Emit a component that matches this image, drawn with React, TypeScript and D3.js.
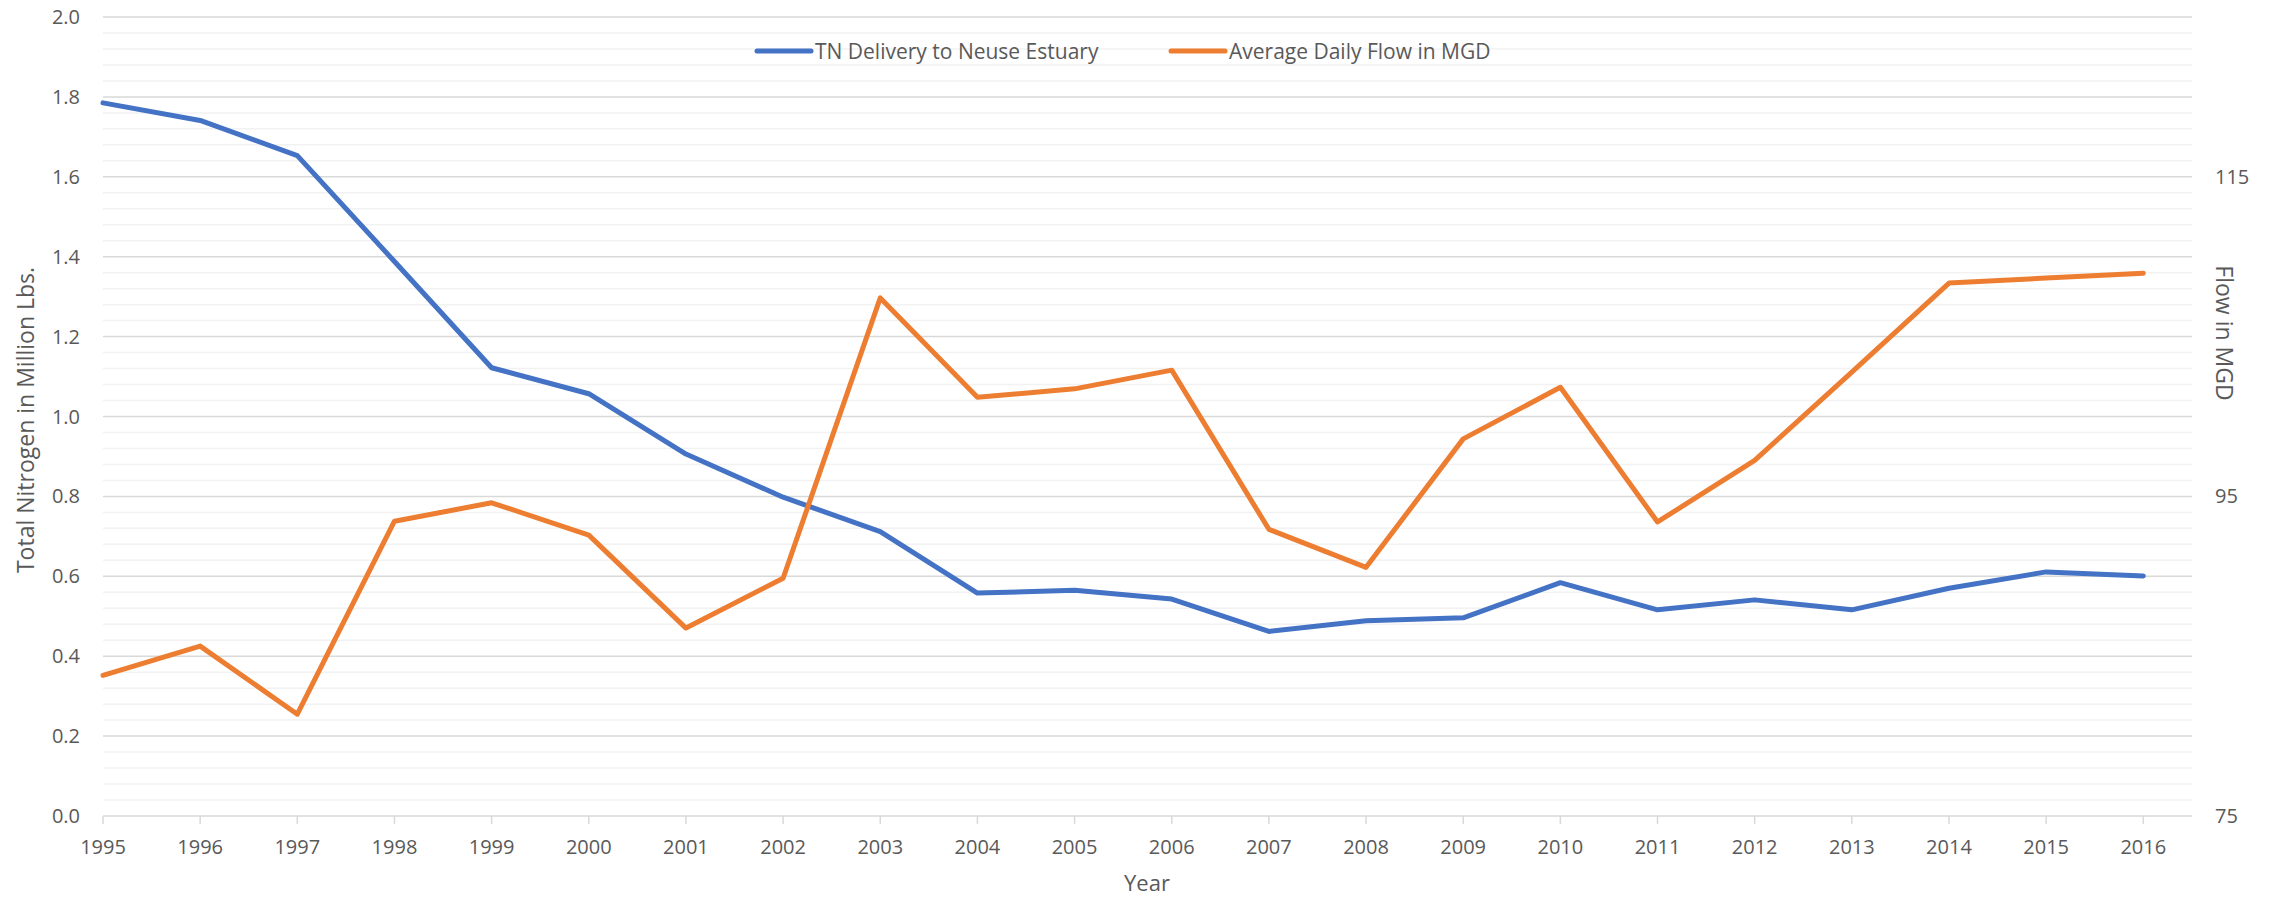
import React, { useRef, useEffect } from 'react';
import * as d3 from 'd3';

const years = [
  1995, 1996, 1997, 1998, 1999, 2000, 2001, 2002, 2003, 2004, 2005,
  2006, 2007, 2008, 2009, 2010, 2011, 2012, 2013, 2014, 2015, 2016,
];

// TN delivery, million lbs (left axis)
const tnDelivery = [
  1.785, 1.741, 1.653, 1.388, 1.122, 1.057, 0.906, 0.798, 0.712, 0.558, 0.565,
  0.543, 0.462, 0.489, 0.496, 0.584, 0.516, 0.541, 0.516, 0.570, 0.611, 0.601,
];

// average daily flow, MGD (right axis)
const dailyFlow = [
  83.8, 85.63, 81.37, 93.45, 94.6, 92.58, 86.76, 89.88, 107.42, 101.2, 101.73,
  102.9, 92.94, 90.56, 98.6, 101.83, 93.4, 97.25, 102.78, 108.35, 108.66, 108.97,
];

const leftTicks = [0, 0.2, 0.4, 0.6, 0.8, 1.0, 1.2, 1.4, 1.6, 1.8, 2.0];
const rightTicks = [75, 95, 115];
const seriesNames = ['TN Delivery to Neuse Estuary', 'Average Daily Flow in MGD'];
const seriesColors = ['#4472C4', '#ED7D31'];

const FONT = '"Open Sans", sans-serif';
const TEXT = '#595959';

const App: React.FC = () => {
  const svgRef = useRef<SVGSVGElement | null>(null);

  useEffect(() => {
    if (!svgRef.current) return;
    document.body.style.margin = '0';

    d3.select(svgRef.current).selectAll('*').remove();

    const width = 2279;
    const height = 897;
    const plotLeft = 103;
    const plotRight = 2192;
    const plotTop = 17;
    const plotBottom = 816;

    const svg = d3
      .select(svgRef.current)
      .attr('width', width)
      .attr('height', height)
      .style('display', 'block')
      .style('background', '#fff');

    const x = d3.scaleLinear().domain([1995, 2016]).range([plotLeft, 2143.3]);
    const yLeft = d3.scaleLinear().domain([0, 2]).range([plotBottom, plotTop]);
    const yRight = d3.scaleLinear().domain([75, 125]).range([plotBottom, plotTop]);

    // minor gridlines every 0.04, major every 0.2
    const minor = d3.range(0, 51).map((i) => i * 0.04);
    svg
      .append('g')
      .selectAll('line')
      .data(minor.filter((_, i) => i % 5 !== 0))
      .join('line')
      .attr('x1', plotLeft)
      .attr('x2', plotRight)
      .attr('y1', (d) => yLeft(d))
      .attr('y2', (d) => yLeft(d))
      .attr('stroke', '#f2f2f2')
      .attr('stroke-width', 1.5);

    svg
      .append('g')
      .selectAll('line')
      .data(leftTicks)
      .join('line')
      .attr('x1', plotLeft)
      .attr('x2', plotRight)
      .attr('y1', (d) => yLeft(d))
      .attr('y2', (d) => yLeft(d))
      .attr('stroke', '#d9d9d9')
      .attr('stroke-width', 1.5);

    // x tick marks
    svg
      .append('g')
      .selectAll('line')
      .data(years)
      .join('line')
      .attr('x1', (d) => x(d))
      .attr('x2', (d) => x(d))
      .attr('y1', plotBottom)
      .attr('y2', plotBottom + 8)
      .attr('stroke', '#d9d9d9')
      .attr('stroke-width', 1.5);

    // left tick labels
    svg
      .append('g')
      .selectAll('text')
      .data(leftTicks)
      .join('text')
      .attr('x', 80)
      .attr('y', (d) => yLeft(d) + 7)
      .attr('text-anchor', 'end')
      .attr('font-family', FONT)
      .attr('font-size', 20)
      .attr('fill', TEXT)
      .text((d) => d3.format('.1f')(d));

    // right tick labels
    svg
      .append('g')
      .selectAll('text')
      .data(rightTicks)
      .join('text')
      .attr('x', 2215)
      .attr('y', (d) => yRight(d) + 7)
      .attr('font-family', FONT)
      .attr('font-size', 20)
      .attr('fill', TEXT)
      .text((d) => d);

    // year labels
    svg
      .append('g')
      .selectAll('text')
      .data(years)
      .join('text')
      .attr('x', (d) => x(d))
      .attr('y', 854)
      .attr('text-anchor', 'middle')
      .attr('font-family', FONT)
      .attr('font-size', 20)
      .attr('fill', TEXT)
      .text((d) => d);

    // axis titles
    svg
      .append('text')
      .attr('x', 1147)
      .attr('y', 891)
      .attr('text-anchor', 'middle')
      .attr('font-family', FONT)
      .attr('font-size', 22)
      .attr('fill', TEXT)
      .text('Year');

    svg
      .append('text')
      .attr('transform', 'translate(34,420) rotate(-90)')
      .attr('text-anchor', 'middle')
      .attr('font-family', FONT)
      .attr('font-size', 23)
      .attr('fill', TEXT)
      .text('Total Nitrogen in Million Lbs.');

    svg
      .append('text')
      .attr('transform', 'translate(2216,333) rotate(90)')
      .attr('text-anchor', 'middle')
      .attr('font-family', FONT)
      .attr('font-size', 23)
      .attr('fill', TEXT)
      .text('Flow in MGD');

    // lines
    const tnLine = d3
      .line<number>()
      .x((_, i) => x(years[i]))
      .y((d) => yLeft(d));
    const flowLine = d3
      .line<number>()
      .x((_, i) => x(years[i]))
      .y((d) => yRight(d));

    svg
      .append('path')
      .datum(tnDelivery)
      .attr('d', tnLine)
      .attr('fill', 'none')
      .attr('stroke', seriesColors[0])
      .attr('stroke-width', 5)
      .attr('stroke-linejoin', 'round')
      .attr('stroke-linecap', 'round');

    svg
      .append('path')
      .datum(dailyFlow)
      .attr('d', flowLine)
      .attr('fill', 'none')
      .attr('stroke', seriesColors[1])
      .attr('stroke-width', 5)
      .attr('stroke-linejoin', 'round')
      .attr('stroke-linecap', 'round');

    // legend
    const legendX = [757, 1171];
    const legend = svg
      .append('g')
      .selectAll('g')
      .data(seriesNames)
      .join('g')
      .attr('transform', (_, i) => `translate(${legendX[i]},51)`);
    legend
      .append('line')
      .attr('x1', 0)
      .attr('x2', 54)
      .attr('stroke', (_, i) => seriesColors[i])
      .attr('stroke-width', 5)
      .attr('stroke-linecap', 'round');
    legend
      .append('text')
      .attr('x', 58)
      .attr('y', 7.5)
      .attr('font-family', FONT)
      .attr('font-size', 21)
      .attr('fill', TEXT)
      .text((d) => d);
  }, []);

  return <svg ref={svgRef}></svg>;
};

export default App;
